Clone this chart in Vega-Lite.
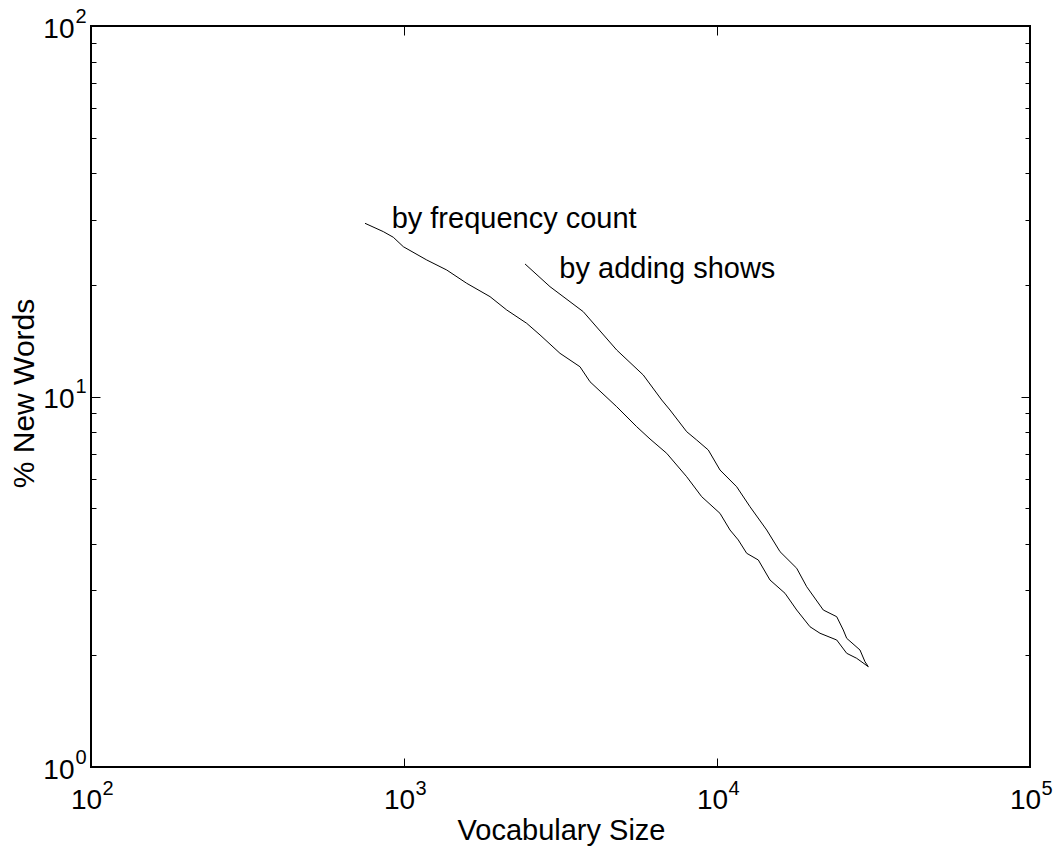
{
  "$schema": "https://vega.github.io/schema/vega-lite/v6.json",
  "width": 939,
  "height": 741,
  "autosize": {"type": "none"},
  "padding": {"left": 91, "top": 26, "right": 25, "bottom": 80},
  "background": "white",
  "config": {
    "view": {"stroke": "black", "strokeWidth": 2},
    "font": "Liberation Sans",
    "axis": {
      "labelFont": "Liberation Sans",
      "labelColor": "black",
      "titleFont": "Liberation Sans",
      "titleColor": "black",
      "titleFontWeight": "normal",
      "tickColor": "black",
      "tickWidth": 1,
      "grid": false,
      "domain": false,
      "labelOverlap": false,
      "labelFlush": false,
      "labelBound": false
    }
  },
  "resolve": {"axis": {"x": "independent", "y": "independent"}},
  "layer": [
    {
      "data": {
        "values": [
          {"series": "by frequency count", "vocab": 750.6, "pct": 29.34},
          {"series": "by frequency count", "vocab": 858.9, "pct": 27.86},
          {"series": "by frequency count", "vocab": 924.4, "pct": 26.9},
          {"series": "by frequency count", "vocab": 995, "pct": 25.37},
          {"series": "by frequency count", "vocab": 1182, "pct": 23.36},
          {"series": "by frequency count", "vocab": 1369, "pct": 21.95},
          {"series": "by frequency count", "vocab": 1586, "pct": 20.21},
          {"series": "by frequency count", "vocab": 1883, "pct": 18.6},
          {"series": "by frequency count", "vocab": 2129, "pct": 17.12},
          {"series": "by frequency count", "vocab": 2466, "pct": 15.76},
          {"series": "by frequency count", "vocab": 2720, "pct": 14.66},
          {"series": "by frequency count", "vocab": 3150, "pct": 13.08},
          {"series": "by frequency count", "vocab": 3650, "pct": 12.03},
          {"series": "by frequency count", "vocab": 3929, "pct": 10.96},
          {"series": "by frequency count", "vocab": 4781, "pct": 9.386},
          {"series": "by frequency count", "vocab": 5539, "pct": 8.288},
          {"series": "by frequency count", "vocab": 6108, "pct": 7.68},
          {"series": "by frequency count", "vocab": 6908, "pct": 7.025},
          {"series": "by frequency count", "vocab": 8001, "pct": 6.074},
          {"series": "by frequency count", "vocab": 8935, "pct": 5.365},
          {"series": "by frequency count", "vocab": 10223, "pct": 4.838},
          {"series": "by frequency count", "vocab": 11003, "pct": 4.362},
          {"series": "by frequency count", "vocab": 11695, "pct": 4.1},
          {"series": "by frequency count", "vocab": 12441, "pct": 3.774},
          {"series": "by frequency count", "vocab": 13552, "pct": 3.62},
          {"series": "by frequency count", "vocab": 14766, "pct": 3.197},
          {"series": "by frequency count", "vocab": 16496, "pct": 2.943},
          {"series": "by frequency count", "vocab": 17973, "pct": 2.653},
          {"series": "by frequency count", "vocab": 19820, "pct": 2.391},
          {"series": "by frequency count", "vocab": 21335, "pct": 2.296},
          {"series": "by frequency count", "vocab": 24124, "pct": 2.202},
          {"series": "by frequency count", "vocab": 25967, "pct": 2.027},
          {"series": "by frequency count", "vocab": 27941, "pct": 1.965},
          {"series": "by frequency count", "vocab": 30440, "pct": 1.865}
        ]
      },
      "mark": {"type": "line", "color": "black", "strokeWidth": 1},
      "encoding": {
        "x": {
          "field": "vocab", "type": "quantitative",
          "scale": {"type": "log", "domain": [100, 100000], "nice": false},
          "axis": {
            "orient": "bottom",
            "values": [100, 1000, 10000, 100000],
            "labelExpr": "'10'",
            "ticks": false,
            "tickSize": 0,
            "labelFontSize": 28,
            "labelBaseline": "middle",
            "labelPadding": 33,
            "labelOffset": -5,
            "title": "Vocabulary Size",
            "titleFontSize": 29,
            "titleBaseline": "alphabetic",
            "titleAlign": "center",
            "titleX": 470,
            "titleY": 72
          }
        },
        "y": {
          "field": "pct", "type": "quantitative",
          "scale": {"type": "log", "domain": [1, 100], "nice": false},
          "axis": {
            "orient": "left",
            "values": [1, 10, 100],
            "labelExpr": "'10'",
            "ticks": false,
            "tickSize": 0,
            "labelFontSize": 28,
            "labelBaseline": "middle",
            "labelPadding": 17,
            "labelOffset": 3,
            "title": "% New Words",
            "titleFontSize": 30,
            "titleBaseline": "alphabetic",
            "titleAngle": -90,
            "titleAlign": "center",
            "titleX": -58,
            "titleY": 367
          }
        }
      }
    },
    {
      "data": {
        "values": [
          {"vocab": 913, "pct": 28.5, "label": "by frequency count"}
        ]
      },
      "mark": {"type": "text", "align": "left", "baseline": "alphabetic", "fontSize": 29, "font": "Liberation Sans", "color": "black"},
      "encoding": {
        "x": {
          "field": "vocab", "type": "quantitative",
          "scale": {"type": "log", "domain": [100, 100000], "nice": false},
          "axis": {
            "orient": "top",
            "values": [1000, 10000],
            "labels": false,
            "tickSize": -9,
            "title": null
          }
        },
        "y": {
          "field": "pct", "type": "quantitative",
          "scale": {"type": "log", "domain": [1, 100], "nice": false},
          "axis": {
            "orient": "right",
            "values": [2, 3, 4, 5, 6, 7, 8, 9, 10, 20, 30, 40, 50, 60, 70, 80, 90],
            "labels": false,
            "tickSize": {"condition": {"test": "datum.value === 10", "value": -9}, "value": -5},
            "title": null
          }
        },
        "text": {"field": "label"}
      }
    },
    {
      "data": {
        "values": [
          {"series": "by adding shows", "vocab": 2436, "pct": 22.79},
          {"series": "by adding shows", "vocab": 2927, "pct": 19.79},
          {"series": "by adding shows", "vocab": 3739, "pct": 16.94},
          {"series": "by adding shows", "vocab": 4781, "pct": 13.35},
          {"series": "by adding shows", "vocab": 5813, "pct": 11.43},
          {"series": "by adding shows", "vocab": 6658, "pct": 9.786},
          {"series": "by adding shows", "vocab": 7077, "pct": 9.195},
          {"series": "by adding shows", "vocab": 8001, "pct": 8.035},
          {"series": "by adding shows", "vocab": 8612, "pct": 7.63},
          {"series": "by adding shows", "vocab": 9380, "pct": 7.171},
          {"series": "by adding shows", "vocab": 10223, "pct": 6.333},
          {"series": "by adding shows", "vocab": 11558, "pct": 5.707},
          {"series": "by adding shows", "vocab": 12747, "pct": 5.041},
          {"series": "by adding shows", "vocab": 14413, "pct": 4.362},
          {"series": "by adding shows", "vocab": 15898, "pct": 3.812},
          {"series": "by adding shows", "vocab": 17973, "pct": 3.439},
          {"series": "by adding shows", "vocab": 19346, "pct": 3.066},
          {"series": "by adding shows", "vocab": 21857, "pct": 2.653},
          {"series": "by adding shows", "vocab": 24124, "pct": 2.545},
          {"series": "by adding shows", "vocab": 25322, "pct": 2.343},
          {"series": "by adding shows", "vocab": 25967, "pct": 2.225},
          {"series": "by adding shows", "vocab": 28633, "pct": 2.069},
          {"series": "by adding shows", "vocab": 29700, "pct": 1.924},
          {"series": "by adding shows", "vocab": 30440, "pct": 1.865}
        ]
      },
      "mark": {"type": "line", "color": "black", "strokeWidth": 1},
      "encoding": {
        "x": {
          "field": "vocab", "type": "quantitative",
          "scale": {"type": "log", "domain": [100, 100000], "nice": false},
          "axis": {
            "orient": "bottom",
            "values": [100, 1000, 10000, 100000],
            "labelExpr": "datum.value === 100 ? '2' : datum.value === 1000 ? '3' : datum.value === 10000 ? '4' : '5'",
            "ticks": false,
            "tickSize": 0,
            "labelFontSize": 20,
            "labelAlign": "left",
            "labelBaseline": "middle",
            "labelPadding": 21,
            "labelOffset": 11,
            "title": null
          }
        },
        "y": {
          "field": "pct", "type": "quantitative",
          "scale": {"type": "log", "domain": [1, 100], "nice": false},
          "axis": {
            "orient": "left",
            "values": [1, 10, 100],
            "labelExpr": "datum.value === 1 ? '0' : datum.value === 10 ? '1' : '2'",
            "ticks": false,
            "tickSize": 0,
            "labelFontSize": 20,
            "labelAlign": "left",
            "labelBaseline": "middle",
            "labelPadding": 16,
            "labelOffset": -10,
            "title": null
          }
        }
      }
    },
    {
      "data": {
        "values": [
          {"vocab": 3135, "pct": 20.84, "label": "by adding shows"}
        ]
      },
      "mark": {"type": "text", "align": "left", "baseline": "alphabetic", "fontSize": 29, "font": "Liberation Sans", "color": "black"},
      "encoding": {
        "x": {
          "field": "vocab", "type": "quantitative",
          "scale": {"type": "log", "domain": [100, 100000], "nice": false},
          "axis": {
            "orient": "bottom",
            "values": [1000, 10000],
            "labels": false,
            "tickSize": -9,
            "title": null
          }
        },
        "y": {
          "field": "pct", "type": "quantitative",
          "scale": {"type": "log", "domain": [1, 100], "nice": false},
          "axis": {
            "orient": "left",
            "values": [2, 3, 4, 5, 6, 7, 8, 9, 10, 20, 30, 40, 50, 60, 70, 80, 90],
            "labels": false,
            "tickSize": {"condition": {"test": "datum.value === 10", "value": -9}, "value": -5},
            "title": null
          }
        },
        "text": {"field": "label"}
      }
    }
  ]
}
